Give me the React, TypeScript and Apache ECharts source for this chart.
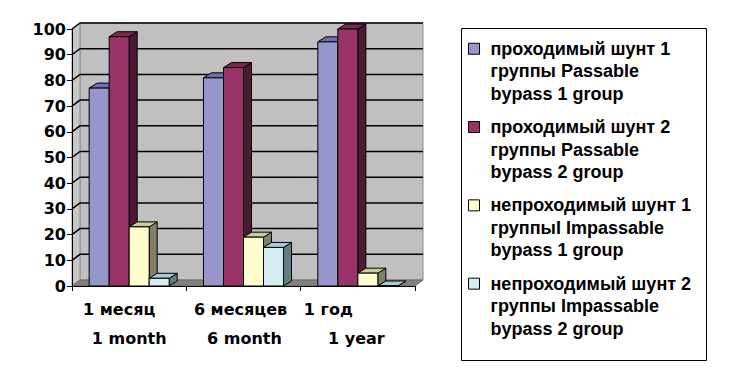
import React, { useEffect, useRef } from 'react';
import * as echarts from 'echarts';

const categoriesRu = ['1 месяц', '6 месяцев', '1 год'];
const categoriesEn = ['1 month', '6 month', '1 year'];
const seriesNames = [
  'проходимый шунт 1\nгруппы Passable\nbypass 1 group',
  'проходимый шунт 2\nгруппы Passable\nbypass 2 group',
  'непроходимый шунт 1\nгруппыI Impassable\nbypass 1 group',
  'непроходимый шунт 2\nгруппы Impassable\nbypass 2 group',
];
const passable1 = [77, 81, 95];
const passable2 = [97, 85, 100];
const impassable1 = [23, 19, 5];
const impassable2 = [3, 15, 0];
const yMin = 0;
const yMax = 100;
const yInterval = 10;

const FONT = '"Liberation Sans", Arial, sans-serif';
const AXFONT = '"DejaVu Sans", sans-serif';
const fronts = ['#9696CA', '#993366', '#FFFFCC', '#D2ECF2'];
const tops = ['#6E6EB4', '#7A2951', '#CCCC99', '#A3CCD5'];
const sides = ['#4C4C80', '#4C1A33', '#80806A', '#5F8080'];

const DX = 8;
const DY = -5;
const WDX = 8;
const WDY = -6;

// per-category line shifts for the two-line category labels
const labelPad = [
  [[0, 20, 0, 0], [0, 0, 0, 0]],
  [[0, 6, 0, 0], [0, 0, 0, 2]],
  [[0, 59, 0, 0], [0, 3, 0, 0]],
];

function barRender(k: number) {
  return (params: any, api: any) => {
    const idx = api.value(0);
    const val = api.value(1);
    const top = api.coord([idx, val]);
    const base = api.coord([idx, 0]);
    const band = api.size([1, 0])[0];
    const bw = band * 0.175;
    const x0 = top[0] - 2 * bw + k * bw;
    const y1 = top[1];
    const y0 = base[1];
    return {
      type: 'group',
      children: [
        {
          type: 'polygon',
          shape: { points: [[x0 + bw, y1], [x0 + bw + DX, y1 + DY], [x0 + bw + DX, y0 + DY], [x0 + bw, y0]] },
          style: { fill: sides[k], stroke: '#000', lineWidth: 1 },
        },
        {
          type: 'polygon',
          shape: { points: [[x0, y1], [x0 + DX, y1 + DY], [x0 + bw + DX, y1 + DY], [x0 + bw, y1]] },
          style: { fill: tops[k], stroke: '#000', lineWidth: 1 },
        },
        {
          type: 'rect',
          shape: { x: x0, y: y1, width: bw, height: y0 - y1 },
          style: { fill: fronts[k], stroke: '#000', lineWidth: 1 },
        },
      ],
    };
  };
}

function wallRender(params: any, api: any) {
  const cs = params.coordSys;
  const x = cs.x;
  const y = cs.y;
  const w = cs.width;
  const h = cs.height;
  const children: any[] = [];
  children.push({
    type: 'rect',
    shape: { x: x + WDX, y: y + WDY, width: w, height: h },
    style: { fill: '#C0C0C0', stroke: '#8C8C8C', lineWidth: 1 },
  });
  children.push({
    type: 'polygon',
    shape: { points: [[x, y], [x + WDX, y + WDY], [x + WDX, y + h + WDY], [x, y + h]] },
    style: { fill: '#C8C8C8', stroke: '#8C8C8C', lineWidth: 1 },
  });
  children.push({
    type: 'polygon',
    shape: { points: [[x, y + h], [x + WDX, y + h + WDY], [x + w + WDX, y + h + WDY], [x + w, y + h]] },
    style: { fill: '#808080', stroke: '#6A6A6A', lineWidth: 1 },
  });
  for (let v = yMin + yInterval; v <= yMax; v += yInterval) {
    const py = api.coord([0, v])[1];
    children.push({
      type: 'polyline',
      shape: { points: [[x, py], [x + WDX, py + WDY], [x + w + WDX, py + WDY]] },
      style: { stroke: '#000', lineWidth: 1.5, fill: 'none' },
    });
  }
  return { type: 'group', children };
}

export default function App() {
  const ref = useRef<HTMLDivElement>(null);
  useEffect(() => {
    if (!ref.current) return;
    const chart = echarts.init(ref.current, null, { renderer: 'svg' });
    const valueSets = [passable1, passable2, impassable1, impassable2];
    const rich: any = {};
    categoriesRu.forEach((_, i) => {
      rich['a' + i] = { fontFamily: AXFONT, fontWeight: 'bold', fontSize: 16, lineHeight: 29, color: '#000', padding: labelPad[i][0] };
      rich['b' + i] = { fontFamily: AXFONT, fontWeight: 'bold', fontSize: 16, lineHeight: 29, color: '#000', padding: labelPad[i][1] };
    });
    chart.setOption({
      animation: false,
      backgroundColor: '#fff',
      grid: { left: 72, top: 29, width: 343, height: 257, containLabel: false },
      xAxis: {
        type: 'category',
        data: categoriesRu,
        z: 10,
        axisLine: { show: true, lineStyle: { color: '#000', width: 1 } },
        axisTick: { show: true, length: 5, lineStyle: { color: '#000', width: 1 } },
        axisLabel: {
          interval: 0,
          margin: 9,
          formatter: (_v: string, i: number) => `{a${i}|${categoriesRu[i]}}\n{b${i}|${categoriesEn[i]}}`,
          rich,
        },
        splitLine: { show: false },
      },
      yAxis: {
        type: 'value',
        min: yMin,
        max: yMax,
        interval: yInterval,
        z: 10,
        axisLine: { show: true, lineStyle: { color: '#000', width: 1 } },
        axisTick: { show: true, length: 5, lineStyle: { color: '#000', width: 1 } },
        axisLabel: { margin: 6, fontFamily: AXFONT, fontWeight: 'bold', fontSize: 16, color: '#000' },
        splitLine: { show: false },
      },
      legend: {
        orient: 'vertical',
        left: 468,
        top: 37.5,
        padding: 0,
        itemWidth: 17,
        itemHeight: 56,
        itemGap: 10.8,
        selectedMode: false,
        textStyle: { fontFamily: FONT, fontWeight: 'bold', fontSize: 18, lineHeight: 22.5, color: '#000' },
        data: seriesNames.map((n, i) => ({
          name: n,
          icon: 'path://M0,0h11v11h-11zM17,56',
          itemStyle: { color: fronts[i], borderColor: '#000', borderWidth: 1 },
        })),
      },
      graphic: [
        {
          type: 'rect',
          z: 0,
          shape: { x: 461.5, y: 28.5, width: 245, height: 332 },
          style: { fill: 'none', stroke: '#000', lineWidth: 1 },
        },
      ],
      series: [
        {
          type: 'custom',
          name: 'wall',
          z: 1,
          silent: true,
          renderItem: wallRender,
          data: [[0, 0]],
          encode: { x: 0, y: 1 },
        },
        ...valueSets.map((vals, k) => ({
          type: 'custom',
          name: seriesNames[k],
          z: 2,
          itemStyle: { color: fronts[k] },
          renderItem: barRender(k),
          data: vals.map((v, i) => [i, v]),
          encode: { x: 0, y: 1 },
        })),
      ],
    });
    return () => chart.dispose();
  }, []);
  return (
    <div
      ref={ref}
      style={{ position: 'fixed', left: 0, top: 0, width: 740, height: 388, background: '#fff' }}
    />
  );
}
